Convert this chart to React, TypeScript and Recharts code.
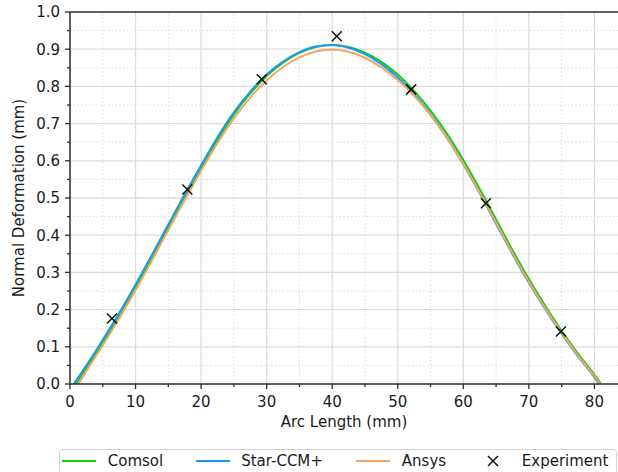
import React from 'react';
import { ComposedChart, Line, Scatter, XAxis, YAxis, ReferenceLine, Legend } from 'recharts';

// ---------- data ----------
const arcLength = [2.5, 5, 7.5, 10, 12.5, 15, 17.5, 20, 22.5, 25, 27.5, 30, 32.5, 35, 37.5, 40,
  42.5, 45, 47.5, 50, 52.5, 55, 57.5, 60, 62.5, 65, 67.5, 70, 72.5, 75, 77.5, 80];

const comsol = [0.043, 0.111, 0.182, 0.258, 0.338, 0.42, 0.501, 0.58, 0.656, 0.724, 0.781, 0.828,
  0.864, 0.89, 0.906, 0.911, 0.906, 0.891, 0.866, 0.832, 0.788, 0.735, 0.673, 0.602, 0.524, 0.442,
  0.36, 0.282, 0.21, 0.143, 0.082, 0.025];

const starCcm = [0.05, 0.119, 0.191, 0.267, 0.347, 0.429, 0.51, 0.588, 0.663, 0.73, 0.786, 0.832,
  0.867, 0.892, 0.907, 0.911, 0.904, 0.887, 0.86, 0.824, 0.779, 0.725, 0.662, 0.591, 0.513, 0.431,
  0.349, 0.272, 0.201, 0.135, 0.074, 0.018];

const ansys = [0.035, 0.104, 0.176, 0.252, 0.332, 0.414, 0.495, 0.573, 0.648, 0.714, 0.77, 0.816,
  0.852, 0.878, 0.894, 0.899, 0.893, 0.877, 0.851, 0.817, 0.775, 0.723, 0.662, 0.592, 0.515, 0.434,
  0.352, 0.275, 0.204, 0.138, 0.077, 0.021];

// arc length where each curve meets zero (start, end): Comsol, Star-CCM+, Ansys
const curveStart = [0.9, 0.6, 1.3];
const curveEnd = [81.0, 80.7, 80.85];

const experimentX = [6.4, 17.9, 29.25, 40.7, 52.05, 63.45, 74.9];
const experimentY = [0.176, 0.523, 0.819, 0.935, 0.792, 0.486, 0.141];

const xMajorTicks = [0, 10, 20, 30, 40, 50, 60, 70, 80];
const xMinorTicks = [5, 15, 25, 35, 45, 55, 65, 75];
const yMajorTicks = [0, 0.1, 0.2, 0.3, 0.4, 0.5, 0.6, 0.7, 0.8, 0.9, 1.0];
const yMinorTicks = [0.05, 0.15, 0.25, 0.35, 0.45, 0.55, 0.65, 0.75, 0.85, 0.95];

const seriesNames = ['Comsol', 'Star-CCM+', 'Ansys'];
const experimentName = 'Experiment';

// ---------- styles ----------
const COLORS = ['#14cc14', '#1e98ec', '#f6a462'];
const SPINE = '#2b2b2b';
const TEXT = '#1a1a1a';
const FONT = 15;

const buildSeries = (values: number[], i: number) => [
  { x: curveStart[i], y: 0 },
  ...arcLength.map((x, k) => ({ x, y: values[k] })),
  { x: curveEnd[i], y: 0 },
];

const seriesData = [buildSeries(comsol, 0), buildSeries(starCcm, 1), buildSeries(ansys, 2)];
const experimentData = experimentX.map((x, k) => ({ x, y: experimentY[k] }));

const X_TICK_OFFSET = 12; // tickSize + tickMargin
const Y_TICK_OFFSET = 10;

const XTick = (props: any) => {
  const { x, y, payload } = props;
  const v = payload.value;
  const major = xMajorTicks.includes(v);
  const axisY = y - X_TICK_OFFSET;
  return (
    <g>
      <line x1={x} x2={x} y1={axisY} y2={axisY + (major ? 5 : 3)} stroke={SPINE} strokeWidth={1.3} />
      {major && (
        <text x={x} y={y} dy="0.71em" textAnchor="middle" fill={TEXT} fontSize={FONT}>
          {String(v)}
        </text>
      )}
    </g>
  );
};

const YTick = (props: any) => {
  const { x, y, payload } = props;
  const v = payload.value;
  const major = yMajorTicks.includes(v);
  const axisX = x + Y_TICK_OFFSET;
  return (
    <g>
      <line x1={axisX - (major ? 5 : 3)} x2={axisX} y1={y} y2={y} stroke={SPINE} strokeWidth={1.3} />
      {major && (
        <text x={x} y={y} dy="0.355em" textAnchor="end" fill={TEXT} fontSize={FONT}>
          {v.toFixed(1)}
        </text>
      )}
    </g>
  );
};

const Cross = (props: any) => {
  const { cx, cy } = props;
  const s = 5;
  return (
    <g>
      <line x1={cx - s} y1={cy - s} x2={cx + s} y2={cy + s} stroke="#111" strokeWidth={1.5} />
      <line x1={cx - s} y1={cy + s} x2={cx + s} y2={cy - s} stroke="#111" strokeWidth={1.5} />
    </g>
  );
};

const legendLeft = [3.3, 136.7, 297.3, 417.3];

const LegendBox = () => {
  const entries = [
    ...seriesNames.map((n, i) => ({ name: n, color: COLORS[i], cross: false })),
    { name: experimentName, color: '#111', cross: true },
  ];
  return (
    <div
      style={{
        position: 'relative',
        width: 558,
        height: 30,
        boxSizing: 'border-box',
        border: '1px solid #d2d2d2',
        borderRadius: 4,
        background: 'rgba(255,255,255,0.85)',
        fontFamily: 'DejaVu Sans',
        fontSize: FONT,
        color: TEXT,
      }}
    >
      {entries.map((e, i) => (
        <div
          key={e.name}
          style={{ position: 'absolute', left: legendLeft[i] - 1, top: 1, height: 20, display: 'flex', alignItems: 'center', whiteSpace: 'nowrap' }}
        >
          <svg width={34} height={20} style={{ display: 'block' }}>
            {e.cross ? (
              <g>
                <line x1={12} y1={5} x2={22} y2={15} stroke={e.color} strokeWidth={1.5} />
                <line x1={12} y1={15} x2={22} y2={5} stroke={e.color} strokeWidth={1.5} />
              </g>
            ) : (
              <line x1={0} y1={10} x2={34} y2={10} stroke={e.color} strokeWidth={2} />
            )}
          </svg>
          <span style={{ marginLeft: 11.5, lineHeight: '20px' }}>{e.name}</span>
        </div>
      ))}
    </div>
  );
};

export default function App() {
  return (
    <div style={{ position: 'absolute', left: 0, top: 0, width: 618, height: 472, overflow: 'hidden', background: '#fff' }}>
      <ComposedChart
        width={618}
        height={472}
        margin={{ top: 12, right: 0, bottom: 43, left: 8 }}
        style={{ fontFamily: 'DejaVu Sans' }}
      >
        {yMinorTicks.map((v) => (
          <ReferenceLine key={'ym' + v} y={v} stroke="#d6d6d6" strokeWidth={1} strokeDasharray="1.2 2.6" />
        ))}
        {xMinorTicks.map((v) => (
          <ReferenceLine key={'xm' + v} x={v} stroke="#d6d6d6" strokeWidth={1} strokeDasharray="1.2 2.6" />
        ))}
        {yMajorTicks.slice(1, -1).map((v) => (
          <ReferenceLine key={'yM' + v} y={v} stroke="#dcdcdc" strokeWidth={1.3} />
        ))}
        {xMajorTicks.slice(1).map((v) => (
          <ReferenceLine key={'xM' + v} x={v} stroke="#dcdcdc" strokeWidth={1.3} />
        ))}
        <ReferenceLine y={1} stroke={SPINE} strokeWidth={1.5} />
        <XAxis
          dataKey="x"
          type="number"
          domain={[0, 83.6]}
          ticks={[...xMajorTicks, ...xMinorTicks].sort((a, b) => a - b)}
          interval={0}
          allowDataOverflow
          height={45}
          tickSize={5}
          tickMargin={7}
          tickLine={false}
          tick={<XTick />}
          axisLine={{ stroke: SPINE, strokeWidth: 1.5 }}
          label={{ value: 'Arc Length (mm)', position: 'insideBottom', offset: 2, fill: TEXT, fontSize: FONT }}
        />
        <YAxis
          dataKey="y"
          type="number"
          domain={[0, 1]}
          ticks={[...yMajorTicks, ...yMinorTicks].sort((a, b) => a - b)}
          interval={0}
          allowDataOverflow
          width={62}
          tickSize={5}
          tickMargin={5}
          tickLine={false}
          tick={<YTick />}
          axisLine={{ stroke: SPINE, strokeWidth: 1.5 }}
          label={{
            value: 'Normal Deformation (mm)',
            angle: -90,
            position: 'insideLeft',
            offset: 11,
            fill: TEXT,
            fontSize: FONT,
            style: { textAnchor: 'middle' },
          }}
        />
        {seriesData.map((d, i) => (
          <Line
            key={seriesNames[i]}
            data={d}
            dataKey="y"
            name={seriesNames[i]}
            type="monotone"
            stroke={COLORS[i]}
            strokeWidth={2}
            dot={false}
            activeDot={false}
            isAnimationActive={false}
          />
        ))}
        <Scatter
          name={experimentName}
          data={experimentData}
          dataKey="y"
          shape={<Cross />}
          isAnimationActive={false}
        />
        <Legend
          layout="horizontal"
          verticalAlign="middle"
          align="center"
          wrapperStyle={{ top: 449, left: 59, width: 558, height: 30 }}
          content={() => <LegendBox />}
        />
      </ComposedChart>
    </div>
  );
}
